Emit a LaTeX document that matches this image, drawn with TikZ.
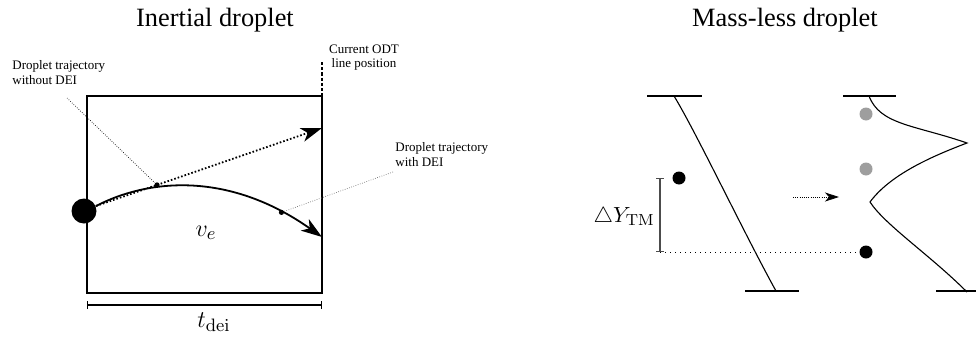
\documentclass[tikz,border=0pt]{standalone}
\usepackage[no-math]{fontspec}
\setmainfont{Liberation Serif}
\usetikzlibrary{arrows.meta}

\tikzset{
  heading/.style={font=\fontsize{13.2}{15}\selectfont, inner sep=0pt, anchor=base},
  note/.style={font=\fontsize{6.5}{7.2}\selectfont, inner sep=0pt, align=left},
  bigdrop/.style={circle, fill=black, minimum size=12.5pt, inner sep=0pt},
  drop/.style={circle, fill=black, minimum size=6.5pt, inner sep=0pt},
  ghost/.style={drop, fill=black!38},
  tick/.style={circle, fill=black, minimum size=2.6pt, inner sep=0pt},
  frame/.style={draw, line width=0.9pt, inner sep=0pt, outer sep=0pt},
  leader/.style={line width=0.35pt, dash pattern=on 0.35pt off 0.8pt},
  traj/.style={line width=0.9pt},
  bigtip/.style={-{Stealth[length=10.5pt, width=7pt, inset=3pt]}},
  bar/.style={line width=0.55pt},
  dim/.style={line width=0.6pt, {Bar[width=4pt]}-{Bar[width=4pt]}}
}

\begin{document}
\begin{tikzpicture}[x=0.5pt, y=-0.5pt]
\useasboundingbox (0,0) rectangle (976,338);

% headings
\node[heading] (h1) at (215,26) {Inertial droplet};
\node[heading] (h2) at (785,26) {Mass-less droplet};

% ---------- inertial droplet ----------
\node[frame, minimum width=117.5pt, minimum height=98.5pt] (box) at (204.5,194.5) {};
\coordinate (odt) at (322,62);
\draw[line width=0.6pt, dash pattern=on 1.6pt off 1pt] (odt) -- (box.south east);
% base anchor of a two-line node sits on its last line
\node[note, align=center, anchor=base] (odtlab) at (364,67.5)
  {Current ODT\\line position};

\node[bigdrop] (d0) at (84,211) {};
\coordinate (s) at (96,206);
\coordinate (e1) at (322,128);
\coordinate (e2) at (322,237);

% trajectory without DEI
\draw[traj, dash pattern=on 0.8pt off 1pt, bigtip] (s) -- (e1)
  coordinate[pos=0.27] (p1);
% trajectory with DEI
\draw[traj, bigtip] (s) .. controls (150,178) and (230,172) .. (e2)
  coordinate[pos=0.85] (p2);

\node[tick] (k1) at (p1) {};
\node[tick] (k2) at (p2) {};

\node[note, anchor=base west] (lab1) at (12,84.3) {Droplet trajectory\\without DEI};
\node[note, anchor=base west] (lab2) at (395,166.3) {Droplet trajectory\\with DEI};
\coordinate (l1) at (67,98);
\coordinate (l2) at (393,172);
\draw[leader] (l1) -- (k1);
\draw[leader, black!55] (l2) -- (k2);

\node[inner sep=0pt, anchor=base, font=\fontsize{12.5}{14}\selectfont] (ve) at (206,236) {$v_e$};

\coordinate (ta) at (87,305);
\coordinate (tb) at (322,305);
\draw[dim] (ta) -- (tb);
\node[inner sep=0pt, anchor=base, font=\fontsize{12.8}{14}\selectfont] (tdei) at (214,327) {$t_{\mathrm{dei}}$};

% ---------- mass-less droplet ----------
% left profile
\coordinate (a1) at (647,96);  \coordinate (a2) at (702,96);
\coordinate (b1) at (745,291); \coordinate (b2) at (799,291);
\draw[bar] (a1) -- (a2);
\draw[bar] (b1) -- (b2);
\draw[bar] (674,96) .. controls (695,130) and (745,235) .. (776,291);

\node[drop] (m0) at (679,178) {};
\coordinate (y1) at (660,178);
\coordinate (y2) at (660,252);
\draw[black!70, line width=0.6pt, {Bar[width=4pt]}-{Bar[width=4pt]}] (y1) -- (y2);
\node[inner sep=0pt, anchor=base east, font=\fontsize{10.8}{12}\selectfont] (dy) at (655,222) {$\triangle Y_{\mathrm{TM}}$};

% transport arrow
\coordinate (r1) at (793,197);
\coordinate (r2) at (839,197);
\draw[line width=0.4pt, dash pattern=on 0.4pt off 0.7pt, -{Stealth[length=7pt, width=4.5pt, inset=2pt]}] (r1) -- (r2);

% right profile
\coordinate (c1) at (843,96);  \coordinate (c2) at (896,96);
\coordinate (f1) at (936,291); \coordinate (f2) at (976,291);
\draw[bar] (c1) -- (c2);
\draw[bar] (f1) -- (f2);
\draw[bar] (869,96) .. controls (880,125) and (915,125) .. (967,143)
  .. controls (930,157) and (890,175) .. (870,202)
  .. controls (885,225) and (930,255) .. (967,292);

\node[ghost] (g1) at (866,114) {};
\node[ghost] (g2) at (866,169) {};
\node[drop] (m1) at (866,252) {};

\draw[line width=0.5pt, dotted] (y2) -- (m1);
\end{tikzpicture}
\end{document}
